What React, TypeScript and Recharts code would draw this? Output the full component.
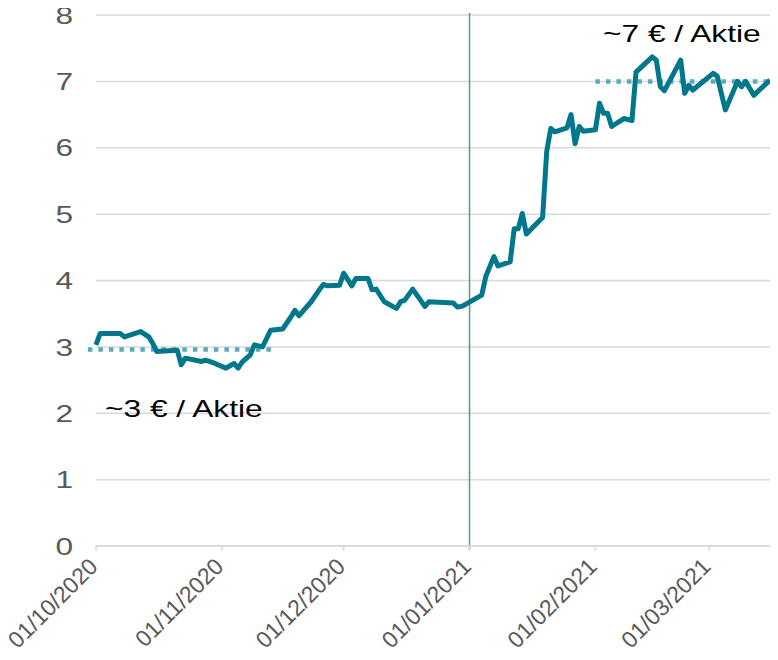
import React from "react";
import {
	CartesianGrid,
	Line,
	LineChart,
	ReferenceLine,
	XAxis,
	YAxis,
} from "recharts";

// share price
const dates = [
	"2020-10-01", "2020-10-02", "2020-10-07", "2020-10-08", "2020-10-12",
	"2020-10-14", "2020-10-15", "2020-10-16", "2020-10-21", "2020-10-22",
	"2020-10-23", "2020-10-27", "2020-10-28", "2020-10-30", "2020-10-31",
	"2020-11-02", "2020-11-04", "2020-11-05", "2020-11-06", "2020-11-08",
	"2020-11-09", "2020-11-11", "2020-11-13", "2020-11-16", "2020-11-18",
	"2020-11-19", "2020-11-20", "2020-11-23", "2020-11-25", "2020-11-26",
	"2020-11-27", "2020-11-30", "2020-12-01", "2020-12-03", "2020-12-04",
	"2020-12-07", "2020-12-08", "2020-12-09", "2020-12-11", "2020-12-14",
	"2020-12-15", "2020-12-16", "2020-12-18", "2020-12-21", "2020-12-22",
	"2020-12-28", "2020-12-29", "2020-12-30", "2020-12-31", "2021-01-04",
	"2021-01-05", "2021-01-07", "2021-01-08", "2021-01-11", "2021-01-12",
	"2021-01-13", "2021-01-14", "2021-01-15", "2021-01-19", "2021-01-20",
	"2021-01-21", "2021-01-22", "2021-01-25", "2021-01-26", "2021-01-27",
	"2021-01-28", "2021-01-29", "2021-02-01", "2021-02-02", "2021-02-03",
	"2021-02-04", "2021-02-05", "2021-02-08", "2021-02-10", "2021-02-11",
	"2021-02-15", "2021-02-16", "2021-02-17", "2021-02-18", "2021-02-22",
	"2021-02-23", "2021-02-24", "2021-02-25", "2021-03-02", "2021-03-03",
	"2021-03-05", "2021-03-08", "2021-03-09", "2021-03-10", "2021-03-12",
	"2021-03-16",
];
const prices = [
	3.03, 3.2, 3.2, 3.15, 3.23,
	3.15, 3.05, 2.93, 2.95, 2.73,
	2.83, 2.78, 2.8, 2.76, 2.73,
	2.68, 2.75, 2.68, 2.77, 2.88,
	3.03, 3.0, 3.25, 3.27, 3.45,
	3.55, 3.47, 3.68, 3.86, 3.94,
	3.92, 3.93, 4.11, 3.92, 4.03,
	4.03, 3.86, 3.87, 3.68, 3.58,
	3.68, 3.7, 3.87, 3.61, 3.68,
	3.66, 3.6, 3.61, 3.64, 3.78,
	4.06, 4.36, 4.22, 4.28, 4.78,
	4.78, 5.01, 4.7, 4.95, 5.94,
	6.29, 6.24, 6.3, 6.5, 6.06,
	6.32, 6.25, 6.27, 6.67, 6.52,
	6.52, 6.32, 6.44, 6.41, 7.14,
	7.37, 7.32, 6.92, 6.86, 7.32,
	6.82, 6.94, 6.87, 7.12, 7.08,
	6.57, 7.0, 6.92, 7.0, 6.79,
	7.02,
];

const tickDates = ["2020-10-01", "2020-11-01", "2020-12-01", "2021-01-01", "2021-02-01", "2021-03-01"];
const tickLabels = ["01/10/2020", "01/11/2020", "01/12/2020", "01/01/2021", "01/02/2021", "01/03/2021"];
const yTicks = [0, 1, 2, 3, 4, 5, 6, 7, 8];

// the two "level" guides and the year marker
const lowLevel = { from: "2020-09-29", to: "2020-11-14", value: 2.96, label: "~3 € / Aktie" };
const highLevel = { from: "2021-02-01", to: "2021-03-16", value: 7.0, label: "~7 € / Aktie" };
const yearMark = "2021-01-01";

const ts = (d: string) => {
	const [y, m, dd] = d.split("-").map(Number);
	return Date.UTC(y, m - 1, dd);
};

const data = dates.map((d, i) => ({ t: ts(d), price: prices[i] }));
const ticks = tickDates.map(ts);

const FONT = "'Liberation Sans', Arial, sans-serif";
const TEAL = "#00778b";
const LIGHT_TEAL = "#5aabb9";
const GRID = "#d9d9d9";
// the source picture was stretched sideways, text looks wide
const STRETCH = 1.32;

const XTick = (props: any) => {
	const { x, y, payload } = props;
	const idx = ticks.indexOf(payload.value);
	return (
		<g transform={`translate(${x + 3},${y + 15})`}>
			<text
				x={0}
				y={0}
				textAnchor="end"
				transform="rotate(-45)"
				fill="#595959"
				fontSize={23}
				fontFamily={FONT}
			>
				{tickLabels[idx]}
			</text>
		</g>
	);
};

const YTick = (props: any) => {
	const { x, y, payload } = props;
	return (
		<g transform={`translate(${x},${y}) scale(${STRETCH},1)`}>
			<text
				x={0}
				y={0}
				dy="0.36em"
				textAnchor="end"
				fill="#595959"
				fontSize={24}
				fontFamily={FONT}
			>
				{payload.value}
			</text>
		</g>
	);
};

const noteStyle: React.CSSProperties = {
	position: "absolute",
	fontFamily: FONT,
	fontSize: 24,
	lineHeight: 1,
	color: "#000",
	whiteSpace: "nowrap",
	transform: `scaleX(${STRETCH})`,
	transformOrigin: "left top",
};

export default function App() {
	return (
		<div style={{ position: "relative", width: 778, height: 660, margin: "-8px 0 0 -8px" }}>
			<LineChart
				width={778}
				height={660}
				data={data}
				margin={{ top: 15, right: 8, bottom: 54, left: 0 }}
			>
				<CartesianGrid vertical={false} stroke={GRID} strokeWidth={1.5} />
				<XAxis
					dataKey="t"
					type="number"
					scale="time"
					domain={[ts(dates[0]), ts(dates[dates.length - 1])]}
					ticks={ticks}
					tick={<XTick />}
					height={60}
					stroke={GRID}
					strokeWidth={1.5}
					tickSize={5}
					interval={0}
				/>
				<YAxis
					domain={[0, 8]}
					ticks={yTicks}
					width={96}
					axisLine={false}
					tickLine={false}
					tickSize={6}
					tickMargin={17}
					tick={<YTick />}
				/>
				<ReferenceLine
					segment={[
						{ x: ts(yearMark), y: 8.03 },
						{ x: ts(yearMark), y: -0.06 },
					]}
					stroke="#3a9fae"
					strokeWidth={1.5}
					ifOverflow="visible"
				/>
				<ReferenceLine
					segment={[
						{ x: ts(lowLevel.from), y: lowLevel.value },
						{ x: ts(lowLevel.to), y: lowLevel.value },
					]}
					stroke={LIGHT_TEAL}
					strokeWidth={4.5}
					strokeDasharray="4.5 6"
					ifOverflow="visible"
				/>
				<ReferenceLine
					segment={[
						{ x: ts(highLevel.from), y: highLevel.value },
						{ x: ts(highLevel.to), y: highLevel.value },
					]}
					stroke={LIGHT_TEAL}
					strokeWidth={4.5}
					strokeDasharray="4.5 6"
					ifOverflow="visible"
				/>
				<Line
					type="linear"
					dataKey="price"
					stroke={TEAL}
					strokeWidth={5}
					strokeLinejoin="round"
					dot={false}
					activeDot={false}
					isAnimationActive={false}
				/>
			</LineChart>
			<div style={{ ...noteStyle, left: 105, top: 397 }}>{lowLevel.label}</div>
			<div style={{ ...noteStyle, left: 603, top: 22 }}>{highLevel.label}</div>
		</div>
	);
}
